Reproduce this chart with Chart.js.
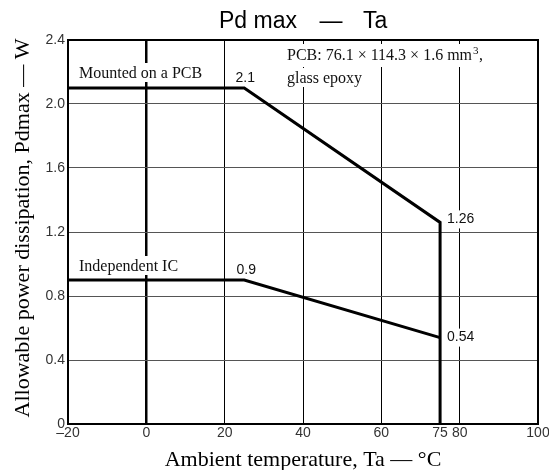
<!DOCTYPE html>
<html>
<head>
<meta charset="utf-8">
<script src="https://cdn.jsdelivr.net/npm/chart.js@4"></script>
<style>
  html, body { margin: 0; padding: 0; background: #fff; }
</style>
</head>
<body>
<canvas id="chart" width="549" height="470"></canvas>
<script>
// axis ticks
const xTicks = [-20, 0, 20, 40, 60, 75, 80, 100];
const xTickLabels = ['–20', '0', '20', '40', '60', '75', '80', '100'];
const yTicks = [0, 0.4, 0.8, 1.2, 1.6, 2.0, 2.4];
const xGridAt = [0, 20, 40, 60, 80];

// derating curves
const pcbTemp = [-20, 25, 75, 75];
const pcbPower = [2.1, 2.1, 1.26, 0];
const icTemp = [-20, 25, 75];
const icPower = [0.9, 0.9, 0.54];

const SANS = '"Liberation Sans", Arial, sans-serif';
const SERIF = '"Liberation Serif", "Times New Roman", serif';

function toPoints(xs, ys) {
  return xs.map((x, i) => ({ x: x, y: ys[i] }));
}

// text with a white box behind it, so grid lines break around it
function boxedText(ctx, text, px, py, font, align, base) {
  ctx.save();
  ctx.font = font;
  ctx.textAlign = align;
  ctx.textBaseline = base;
  const m = ctx.measureText(text);
  let left = px;
  if (align === 'center') left = px - m.width / 2;
  if (align === 'right') left = px - m.width;
  const asc = m.fontBoundingBoxAscent || 14;
  const desc = m.fontBoundingBoxDescent || 4;
  let top = py - asc;
  if (base === 'middle') top = py - (asc + desc) / 2;
  ctx.fillStyle = '#fff';
  ctx.fillRect(left - 3, top - 1, m.width + 6, asc + desc + 2);
  ctx.fillStyle = '#111';
  ctx.fillText(text, px, py);
  ctx.restore();
}

const annot = {
  id: 'annot',
  beforeDatasetsDraw(chart) {
    const { ctx, chartArea: a, scales: { x, y } } = chart;
    const noteFont = '16px ' + SERIF;
    const numFont = '14px ' + SANS;

    boxedText(ctx, 'Mounted on a PCB', a.left + 11, y.getPixelForValue(pcbPower[0]) - 10, noteFont, 'left', 'alphabetic');
    boxedText(ctx, 'Independent IC', a.left + 11, y.getPixelForValue(icPower[0]) - 9, noteFont, 'left', 'alphabetic');

    boxedText(ctx, String(pcbPower[1]), x.getPixelForValue(pcbTemp[1]) + 1, y.getPixelForValue(pcbPower[1]) - 6, numFont, 'center', 'alphabetic');
    boxedText(ctx, String(icPower[1]), x.getPixelForValue(icTemp[1]) + 2, y.getPixelForValue(icPower[1]) - 6, numFont, 'center', 'alphabetic');
    boxedText(ctx, String(pcbPower[2]), x.getPixelForValue(pcbTemp[2]) + 7, y.getPixelForValue(pcbPower[2]) - 3, numFont, 'left', 'middle');
    boxedText(ctx, String(icPower[2]), x.getPixelForValue(icTemp[2]) + 7, y.getPixelForValue(icPower[2]), numFont, 'left', 'middle');

    // board note, two lines
    ctx.save();
    ctx.font = noteFont;
    const l1a = 'PCB: 76.1 × 114.3 × 1.6 mm';
    const w1a = ctx.measureText(l1a).width;
    ctx.restore();
    const nx = a.left + 219;
    ctx.save();
    ctx.fillStyle = '#fff';
    ctx.fillRect(nx - 3, a.top + 4, w1a + 20, 23);
    ctx.restore();
    boxedText(ctx, 'glass epoxy', nx, a.top + 43, noteFont, 'left', 'alphabetic');
    ctx.save();
    ctx.fillStyle = '#111';
    ctx.font = noteFont;
    ctx.textBaseline = 'alphabetic';
    ctx.fillText(l1a, nx, a.top + 20);
    ctx.font = '11px ' + SERIF;
    ctx.fillText('3', nx + w1a + 1, a.top + 14);
    ctx.font = noteFont;
    ctx.fillText(',', nx + w1a + 7, a.top + 20);
    ctx.restore();
  },
  afterDatasetsDraw(chart) {
    const { ctx, chartArea: a } = chart;
    ctx.save();
    ctx.strokeStyle = '#000';
    ctx.lineWidth = 2;
    ctx.strokeRect(a.left, a.top, a.right - a.left, a.bottom - a.top);
    ctx.restore();
  },
  afterDraw(chart) {
    const { ctx, chartArea: a } = chart;
    const cx = (a.left + a.right) / 2;
    const cy = (a.top + a.bottom) / 2;
    ctx.save();
    ctx.fillStyle = '#000';
    ctx.textBaseline = 'alphabetic';
    // title
    ctx.font = '23px ' + SANS;
    ctx.textAlign = 'right';
    ctx.fillText('Pd max', cx - 6, 28);
    ctx.textAlign = 'center';
    ctx.fillText('—', cx + 28, 28);
    ctx.textAlign = 'left';
    ctx.fillText('Ta', cx + 60, 28);
    // axis titles
    ctx.font = '22px ' + SERIF;
    ctx.textAlign = 'center';
    ctx.fillText('Ambient temperature, Ta — °C', cx, 466);
    ctx.translate(29, cy - 4);
    ctx.rotate(-Math.PI / 2);
    ctx.fillText('Allowable power dissipation, Pdmax — W', 0, 0);
    ctx.restore();
  }
};

new Chart(document.getElementById('chart'), {
  type: 'scatter',
  data: {
    datasets: [
      {
        label: 'Mounted on a PCB',
        data: toPoints(pcbTemp, pcbPower),
        showLine: true,
        borderColor: '#000',
        borderWidth: 3,
        borderJoinStyle: 'miter',
        pointRadius: 0,
        fill: false
      },
      {
        label: 'Independent IC',
        data: toPoints(icTemp, icPower),
        showLine: true,
        borderColor: '#000',
        borderWidth: 3,
        borderJoinStyle: 'miter',
        pointRadius: 0,
        fill: false
      }
    ]
  },
  options: {
    responsive: false,
    animation: false,
    devicePixelRatio: 1,
    layout: { padding: { top: 40, right: 11, left: 0, bottom: 0 } },
    plugins: {
      legend: { display: false },
      tooltip: { enabled: false },
      title: { display: false }
    },
    scales: {
      x: {
        type: 'linear',
        min: -20,
        max: 100,
        afterBuildTicks: s => { s.ticks = xTicks.map(v => ({ value: v })); },
        afterFit: s => { s.height = 46; s.paddingLeft = 0; s.paddingRight = 0; },
        border: { display: false },
        grid: {
          drawTicks: false,
          color: c => xGridAt.includes(c.tick.value) ? '#000' : 'rgba(0,0,0,0)',
          lineWidth: c => c.tick.value === 0 ? 2.5 : 1
        },
        ticks: {
          autoSkip: false,
          maxRotation: 0,
          padding: 1,
          color: '#333',
          font: { family: SANS, size: 14 },
          callback: v => xTickLabels[xTicks.indexOf(v)]
        }
      },
      y: {
        type: 'linear',
        min: 0,
        max: 2.4,
        afterBuildTicks: s => { s.ticks = yTicks.map(v => ({ value: v })); },
        afterFit: s => { s.width = 68; },
        border: { display: false },
        grid: {
          drawTicks: false,
          color: c => (c.tick.value > 0 && c.tick.value < 2.4) ? '#555' : 'rgba(0,0,0,0)',
          lineWidth: 1
        },
        ticks: {
          padding: 3,
          color: '#333',
          font: { family: SANS, size: 14 },
          callback: v => v === 0 ? '0' : v.toFixed(1)
        }
      }
    }
  },
  plugins: [annot]
});
</script>
</body>
</html>
